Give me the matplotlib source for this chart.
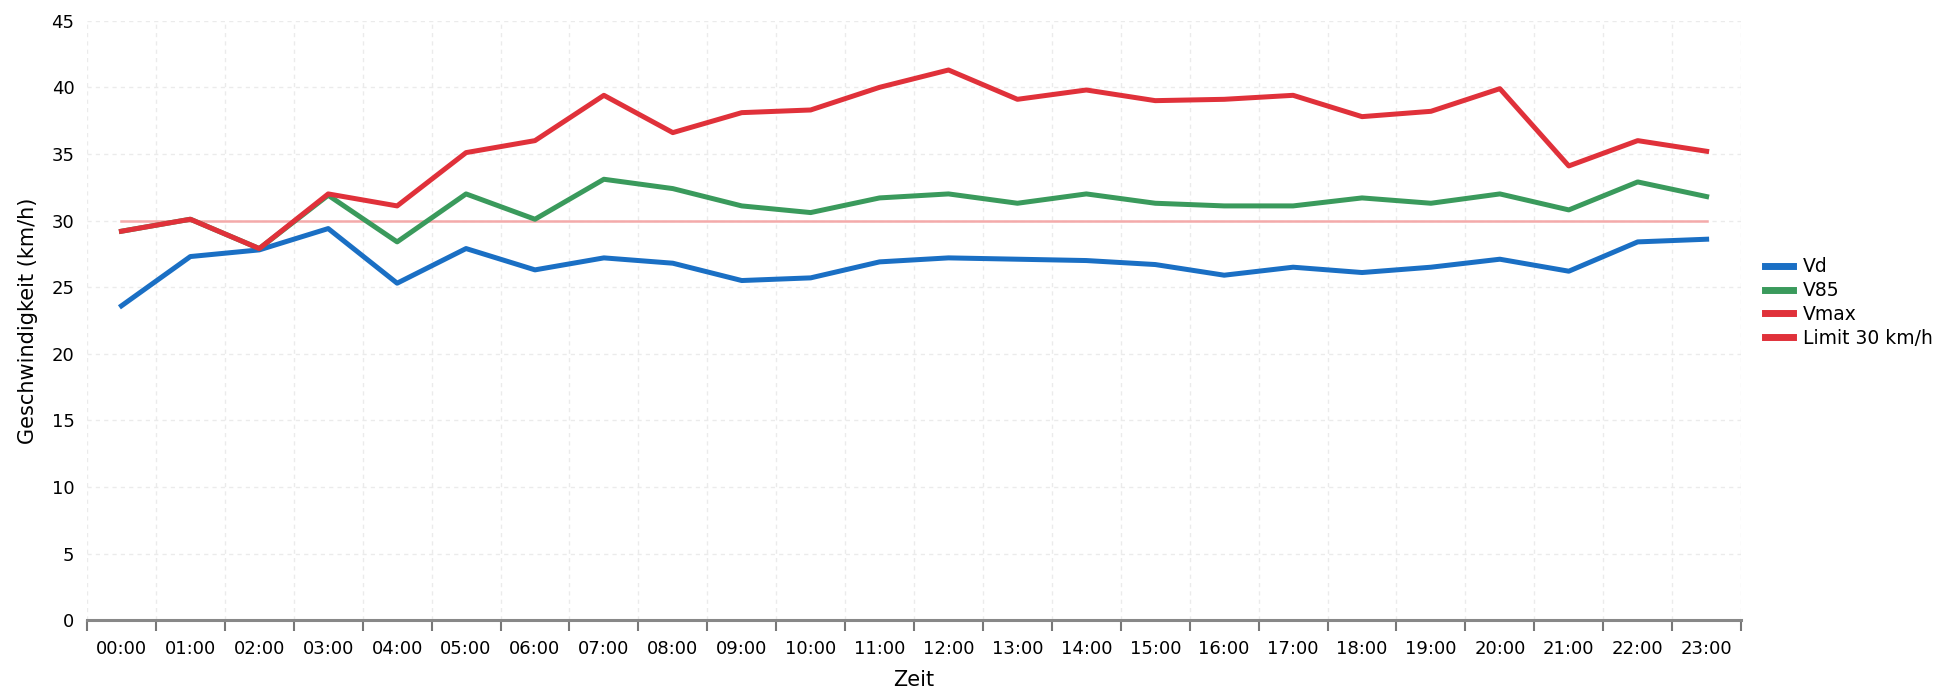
import numpy as np
import matplotlib
matplotlib.use('Agg')
import matplotlib.pyplot as plt
from matplotlib.lines import Line2D

# hourly categories
hours = ['%02d:00' % h for h in range(24)]

# speeds (km/h)
vd = [23.6, 27.3, 27.8, 29.4, 25.3, 27.9, 26.3, 27.2, 26.8, 25.5, 25.7, 26.9,
      27.2, 27.1, 27.0, 26.7, 25.9, 26.5, 26.1, 26.5, 27.1, 26.2, 28.4, 28.6]
v85 = [29.2, 30.1, 27.9, 31.9, 28.4, 32.0, 30.1, 33.1, 32.4, 31.1, 30.6, 31.7,
       32.0, 31.3, 32.0, 31.3, 31.1, 31.1, 31.7, 31.3, 32.0, 30.8, 32.9, 31.8]
vmax = [29.2, 30.1, 27.9, 32.0, 31.1, 35.1, 36.0, 39.4, 36.6, 38.1, 38.3, 40.0,
        41.3, 39.1, 39.8, 39.0, 39.1, 39.4, 37.8, 38.2, 39.9, 34.1, 36.0, 35.2]
limit = 30

blue = '#1a6fc4'
green = '#3a9a5c'
red = '#e0313a'

fig = plt.figure(figsize=(19.46, 6.9), dpi=100)
ax = fig.add_axes([0.0447, 0.101, 0.85, 0.869])

x = np.arange(len(hours))
ax.plot(x, [limit] * len(x), color='#f4aaaa', linewidth=1.8, zorder=2)
ax.plot(x, vd, color=blue, linewidth=3.6, zorder=3)
ax.plot(x, v85, color=green, linewidth=3.6, zorder=4)
ax.plot(x, vmax, color=red, linewidth=3.6, zorder=5)

ax.set_xlim(-0.5, len(hours) - 0.5)
ax.set_ylim(0, 45)
ax.set_yticks(np.arange(0, 46, 5))

# labels at the centres, ticks on the boundaries
ax.set_xticks(x)
ax.set_xticklabels(hours)
ax.set_xticks(np.arange(-0.5, len(hours), 1), minor=True)
ax.tick_params(axis='x', which='major', length=0, labelsize=13, pad=14)
ax.tick_params(axis='x', which='minor', length=8, width=1.5, color='#777777')
ax.tick_params(axis='y', length=0, labelsize=13, pad=9)

ax.grid(True, axis='x', which='minor', color='#ebebeb', linestyle=(0, (3, 3)), linewidth=1)
ax.grid(True, axis='y', which='major', color='#ebebeb', linestyle=(0, (3, 3)), linewidth=1)
ax.grid(False, axis='x', which='major')
ax.set_axisbelow(True)

for s in ['top', 'right', 'left']:
    ax.spines[s].set_visible(False)
ax.spines['bottom'].set_color('#888888')
ax.spines['bottom'].set_linewidth(2.2)

ax.set_xlabel('Zeit', fontsize=15, labelpad=9)
ax.set_ylabel('Geschwindigkeit (km/h)', fontsize=15, labelpad=10)

handles = [Line2D([], [], color=blue, linewidth=5),
           Line2D([], [], color=green, linewidth=5),
           Line2D([], [], color=red, linewidth=5),
           Line2D([], [], color=red, linewidth=5)]
ax.legend(handles, ['Vd', 'V85', 'Vmax', 'Limit 30 km/h'],
          loc='center left', bbox_to_anchor=(1.01, 0.53), frameon=False,
          fontsize=13.5, handlelength=1.5, handletextpad=0.5, labelspacing=0.25,
          borderaxespad=0)

fig.savefig('out.png', dpi=100)
